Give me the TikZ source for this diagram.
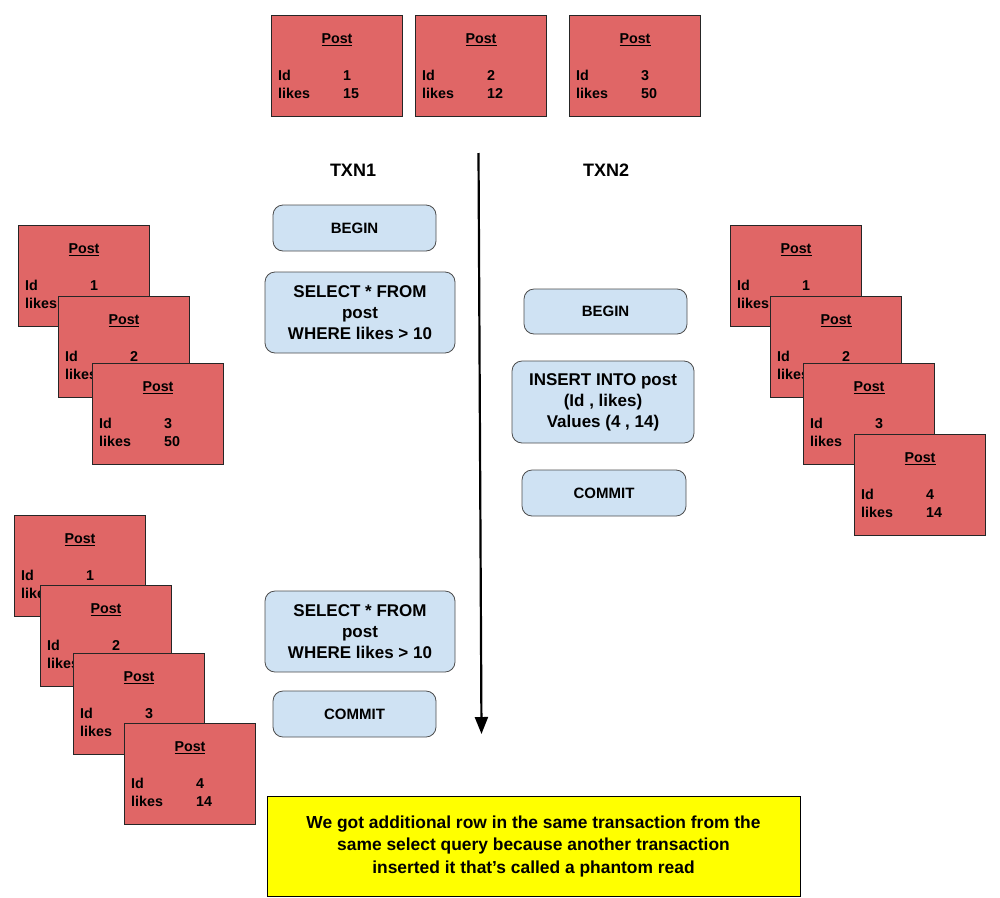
\documentclass[tikz,border=0pt]{standalone}
\usepackage{fontspec}
\setmainfont{Liberation Sans}
\usetikzlibrary{arrows.meta,calc}
\definecolor{cardred}{HTML}{E06666}
\definecolor{qblue}{HTML}{CFE2F3}
\definecolor{noteyellow}{HTML}{FFFF00}
\newcommand\pcard[5]{%
  \node[card] (#1) at (#2,#3) {};
  \node[ctext] (#1p) at ($(#1.north west)+(66,25)$) {\underline{Post}};
  \node[ctext,anchor=base west] (#1a) at ($(#1.north west)+(7,65)$) {Id};
  \node[ctext,anchor=base west] (#1b) at ($(#1.north west)+(72,65)$) {#4};
  \node[ctext,anchor=base west] (#1c) at ($(#1.north west)+(7,83)$) {likes};
  \node[ctext,anchor=base west] (#1d) at ($(#1.north west)+(72,83)$) {#5};
}
\begin{document}
\begin{tikzpicture}[x=1pt,y=-1pt,
  card/.style={rectangle,fill=cardred,draw=black!85,line width=0.8pt,
    minimum width=131pt,minimum height=101pt,anchor=north west,inner sep=0pt},
  ctext/.style={inner sep=0pt,font=\fontsize{14.3}{16}\selectfont\bfseries},
  qbox/.style={rectangle,rounded corners=10pt,fill=qblue,draw=black!70,line width=0.8pt,
    align=center,inner sep=0pt},
  bigq/.style={qbox,font=\fontsize{17}{21}\selectfont\bfseries},
  smallq/.style={qbox,font=\fontsize{15}{18}\selectfont\bfseries},
  txn/.style={inner sep=0pt,font=\fontsize{18}{20}\selectfont\bfseries},
  note/.style={rectangle,fill=noteyellow,draw=black,line width=0.8pt,align=center,
    inner sep=0pt,font=\fontsize{17.4}{22.5}\selectfont\bfseries},
  timeline/.style={line width=2.2pt,-{Triangle[length=17pt,width=13pt]}}]
\useasboundingbox (0,0) rectangle (1000,897);
% top table
\pcard{t1}{271}{15}{1}{15}
\pcard{t2}{415}{15}{2}{12}
\pcard{t3}{569}{15}{3}{50}
% first select result
\pcard{l1}{18}{225}{1}{15}
\pcard{l2}{58}{296}{2}{12}
\pcard{l3}{92}{363}{3}{50}
% right stack
\pcard{r1}{730}{225}{1}{15}
\pcard{r2}{770}{296}{2}{12}
\pcard{r3}{803}{363}{3}{50}
\pcard{r4}{854}{434}{4}{14}
% second select result
\pcard{b1}{14}{515}{1}{15}
\pcard{b2}{40}{585}{2}{12}
\pcard{b3}{73}{653}{3}{50}
\pcard{b4}{124}{723}{4}{14}
% labels
\node[txn] (txn1) at (353,170) {TXN1};
\node[txn] (txn2) at (606,170) {TXN2};
% TXN1 statements
\node[smallq,minimum width=163pt,minimum height=46pt] (begin1) at (354.5,228) {BEGIN};
\node[bigq,minimum width=190pt,minimum height=81pt] (select1) at (360,312.5) {SELECT * FROM\\post\\WHERE likes > 10};
\node[bigq,minimum width=190pt,minimum height=81pt] (select2) at (360,631.5) {SELECT * FROM\\post\\WHERE likes > 10};
\node[smallq,minimum width=163pt,minimum height=46pt] (commit1) at (354.5,714) {COMMIT};
% TXN2 statements
\node[smallq,minimum width=163pt,minimum height=45pt] (begin2) at (605.5,311.5) {BEGIN};
\node[bigq,minimum width=182pt,minimum height=82pt] (insert) at (603,402) {INSERT INTO post\\(Id , likes)\\Values (4 , 14)};
\node[smallq,minimum width=164pt,minimum height=46pt] (commit2) at (604,493) {COMMIT};
% timeline
\coordinate (ttop) at (478.5,153);
\coordinate (tbot) at (481.5,734);
\draw[timeline] (ttop) -- (tbot);
% note
\node[note,minimum width=533pt,minimum height=100pt] (note) at (533.5,846)
  {We got additional row in the same transaction from the\\same select query because another transaction\\inserted it that’s called a phantom read};
\end{tikzpicture}
\end{document}
